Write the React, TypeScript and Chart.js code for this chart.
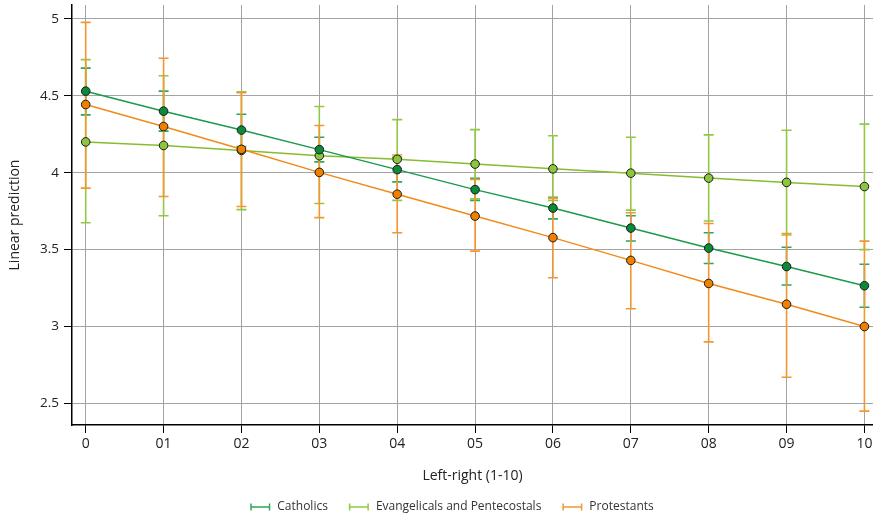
import React, { useEffect, useRef } from 'react';
import { Chart, registerables } from 'chart.js';

Chart.register(...registerables);

// ---------- data ----------
const xValues = [0, 1, 2, 3, 4, 5, 6, 7, 8, 9, 10];
const xTickLabels = ['0', '01', '02', '03', '04', '05', '06', '07', '08', '09', '10'];
const yTickValues = [2.5, 3, 3.5, 4, 4.5, 5];

const seriesNames = ['Catholics', 'Evangelicals and Pentecostals', 'Protestants'];

const catholicsFit = [4.53, 4.4, 4.277, 4.15, 4.02, 3.89, 3.77, 3.64, 3.51, 3.39, 3.265];
const catholicsLower = [4.376, 4.27, 4.17, 4.07, 3.94, 3.82, 3.70, 3.556, 3.41, 3.27, 3.125];
const catholicsUpper = [4.68, 4.53, 4.38, 4.23, 4.10, 3.963, 3.84, 3.72, 3.61, 3.515, 3.405];

const evangelicalsFit = [4.2, 4.177, 4.145, 4.11, 4.087, 4.056, 4.025, 3.997, 3.965, 3.937, 3.91];
const evangelicalsLower = [3.675, 3.72, 3.76, 3.80, 3.82, 3.83, 3.82, 3.757, 3.686, 3.595, 3.5];
const evangelicalsUpper = [4.735, 4.63, 4.526, 4.43, 4.345, 4.28, 4.24, 4.23, 4.246, 4.276, 4.316];

const protestantsFit = [4.443, 4.3, 4.152, 4.002, 3.86, 3.718, 3.578, 3.43, 3.28, 3.145, 3.0];
const protestantsLower = [3.9, 3.845, 3.78, 3.708, 3.61, 3.49, 3.317, 3.116, 2.9, 2.67, 2.45];
const protestantsUpper = [4.977, 4.744, 4.52, 4.307, 4.115, 3.956, 3.835, 3.74, 3.67, 3.605, 3.555];

// ---------- styles ----------
const lineColors = ['#1b9a4b', '#86bd2f', '#f28a1a'];
const markerColors = ['#0b8a3a', '#8cc63f', '#f08000'];
const ciColors = ['#2ba85c', '#93c842', '#f49632'];
const FONT = '"Open Sans", "Noto Sans", sans-serif';

const fits = [catholicsFit, evangelicalsFit, protestantsFit];
const lowers = [catholicsLower, evangelicalsLower, protestantsLower];
const uppers = [catholicsUpper, evangelicalsUpper, protestantsUpper];
const drawOrder = [0, 2, 1];

const errorBarPlugin = {
  id: 'errorBars',
  beforeDatasetsDraw(chart: any) {
    const { ctx, scales } = chart;
    const xs = scales.x;
    const ys = scales.y;
    for (let i = 0; i < fits.length; i++) {
      if (!chart.isDatasetVisible(i)) continue;
      ctx.save();
      ctx.strokeStyle = ciColors[i];
      ctx.lineWidth = 1.6;
      for (let j = 0; j < xValues.length; j++) {
        const px = xs.getPixelForValue(xValues[j]);
        const pl = ys.getPixelForValue(lowers[i][j]);
        const pu = ys.getPixelForValue(uppers[i][j]);
        ctx.beginPath();
        ctx.moveTo(px, pl);
        ctx.lineTo(px, pu);
        ctx.moveTo(px - 5, pl);
        ctx.lineTo(px + 5, pl);
        ctx.moveTo(px - 5, pu);
        ctx.lineTo(px + 5, pu);
        ctx.stroke();
      }
      ctx.restore();
    }
  },
};

const legendPlugin = {
  id: 'ciLegend',
  afterDraw(chart: any) {
    const { ctx } = chart;
    const centerX = 452;
    const cy = 507;
    const sym = 20;
    const gapText = 7;
    const gapItem = 21;
    ctx.save();
    ctx.font = `12px ${FONT}`;
    const widths = seriesNames.map((t) => ctx.measureText(t).width);
    const total =
      widths.reduce((a, w) => a + sym + gapText + w, 0) + gapItem * (seriesNames.length - 1);
    let x = centerX - total / 2;
    seriesNames.forEach((name, i) => {
      ctx.strokeStyle = ciColors[i];
      ctx.lineWidth = 1.5;
      ctx.beginPath();
      ctx.moveTo(x, cy);
      ctx.lineTo(x + sym, cy);
      ctx.moveTo(x + 0.75, cy - 3.5);
      ctx.lineTo(x + 0.75, cy + 3.5);
      ctx.moveTo(x + sym - 0.75, cy - 3.5);
      ctx.lineTo(x + sym - 0.75, cy + 3.5);
      ctx.stroke();
      ctx.fillStyle = '#333';
      ctx.textBaseline = 'middle';
      ctx.textAlign = 'left';
      ctx.fillText(name, x + sym + gapText, cy);
      x += sym + gapText + widths[i] + gapItem;
    });
    ctx.restore();
  },
};

export default function App() {
  const canvasRef = useRef<HTMLCanvasElement | null>(null);

  useEffect(() => {
    document.body.style.margin = '0';
    const canvas = canvasRef.current;
    if (!canvas) return;

    const datasets = fits.map((fit, i) => ({
      label: seriesNames[i],
      data: xValues.map((x, j) => ({ x, y: fit[j] })),
      borderColor: lineColors[i],
      backgroundColor: markerColors[i],
      borderWidth: 1.5,
      pointRadius: 4.3,
      pointHoverRadius: 4.3,
      pointBackgroundColor: markerColors[i],
      pointBorderColor: '#1a1a1a',
      pointBorderWidth: 1,
      fill: false,
      tension: 0,
      order: drawOrder[i],
    }));

    const chart = new Chart(canvas, {
      type: 'line',
      data: { datasets },
      options: {
        animation: false,
        responsive: false,
        maintainAspectRatio: false,
        layout: { padding: { top: 5, right: 0, left: 0, bottom: 29 }, autoPadding: false },
        plugins: {
          legend: { display: false },
          tooltip: { enabled: false },
        },
        scales: {
          x: {
            type: 'linear',
            min: -0.176,
            max: 10.11,
            afterBuildTicks: (scale: any) => {
              scale.ticks = xValues.map((v) => ({ value: v }));
            },
            afterFit: (scale: any) => {
              scale.height = 66;
              scale.paddingLeft = 0;
              scale.paddingRight = 0;
            },
            ticks: {
              callback: (value: any) => xTickLabels[Math.round(Number(value))],
              font: { family: FONT, size: 14 },
              color: '#222',
              padding: 2.5,
              maxRotation: 0,
            },
            grid: {
              color: '#a3a3a3',
              lineWidth: 1,
              tickColor: '#000',
              tickLength: 8,
              tickWidth: 1,
            },
            border: { color: '#000', width: 1.5 },
            title: {
              display: true,
              text: 'Left-right (1-10)',
              font: { family: FONT, size: 14 },
              color: '#222',
              padding: { top: 0, bottom: 6.8 },
            },
          },
          y: {
            type: 'linear',
            min: 2.36,
            max: 5.09,
            afterBuildTicks: (scale: any) => {
              scale.ticks = yTickValues.map((v) => ({ value: v }));
            },
            afterFit: (scale: any) => {
              scale.width = 72;
              scale.paddingTop = 0;
              scale.paddingBottom = 0;
            },
            ticks: {
              callback: (value: any) => String(value),
              font: { family: FONT, size: 13.5 },
              color: '#222',
              padding: 5,
            },
            grid: {
              color: '#a3a3a3',
              lineWidth: 1,
              tickColor: '#000',
              tickLength: 8,
              tickWidth: 1,
            },
            border: { color: '#000', width: 1.5 },
            title: {
              display: true,
              text: 'Linear prediction',
              font: { family: FONT, size: 14 },
              color: '#222',
              padding: { top: 6.6, bottom: 0 },
            },
          },
        },
      },
      plugins: [errorBarPlugin, legendPlugin],
    } as any);

    return () => {
      chart.destroy();
    };
  }, []);

  return (
    <div style={{ width: 873, height: 520 }}>
      <canvas ref={canvasRef} width={873} height={520} style={{ display: 'block' }} />
    </div>
  );
}
